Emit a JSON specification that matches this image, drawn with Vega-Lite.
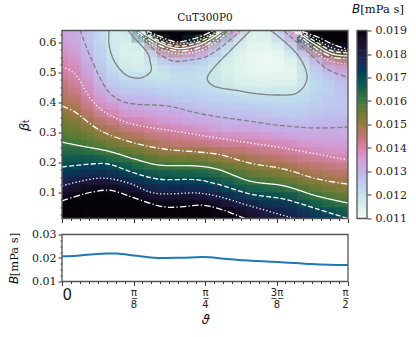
{"$schema":"https://vega.github.io/schema/vega-lite/v6.json","background":"white","padding":{"left":8,"top":3.5,"right":0,"bottom":0},"columns":2,"spacing":{"row":5,"column":0},"config":{"view":{"stroke":null},"axis":{"labelFont":"DejaVu Serif","labelFontSize":11,"labelColor":"#222","tickColor":"#333","domain":false,"grid":false,"labelPadding":2,"titleFontWeight":"normal","titleColor":"#111"},"title":{"fontWeight":"normal","color":"#111"}},
"datasets":{"grid":[
{"t":2,"b":0.625,"v":0.0134},{"t":2,"b":0.6,"v":0.0135},{"t":2,"b":0.575,"v":0.0137},{"t":2,"b":0.55,"v":0.0138},{"t":2,"b":0.525,"v":0.014},{"t":2,"b":0.5,"v":0.0141},{"t":2,"b":0.475,"v":0.0143},{"t":2,"b":0.45,"v":0.0145},{"t":2,"b":0.425,"v":0.0146},{"t":2,"b":0.4,"v":0.0148},{"t":2,"b":0.375,"v":0.015},{"t":2,"b":0.35,"v":0.0153},{"t":2,"b":0.325,"v":0.0155},{"t":2,"b":0.3,"v":0.0157},{"t":2,"b":0.275,"v":0.0159},{"t":2,"b":0.25,"v":0.0162},{"t":2,"b":0.225,"v":0.0165},{"t":2,"b":0.2,"v":0.0168},{"t":2,"b":0.175,"v":0.0172},{"t":2,"b":0.15,"v":0.0176},{"t":2,"b":0.125,"v":0.018},{"t":2,"b":0.1,"v":0.0185},{"t":2,"b":0.075,"v":0.0191},{"t":2,"b":0.05,"v":0.0195},{"t":2,"b":0.025,"v":0.0198},
{"t":6,"b":0.625,"v":0.013},{"t":6,"b":0.6,"v":0.0132},{"t":6,"b":0.575,"v":0.0133},{"t":6,"b":0.55,"v":0.0135},{"t":6,"b":0.525,"v":0.0136},{"t":6,"b":0.5,"v":0.0138},{"t":6,"b":0.475,"v":0.0139},{"t":6,"b":0.45,"v":0.0141},{"t":6,"b":0.425,"v":0.0143},{"t":6,"b":0.4,"v":0.0146},{"t":6,"b":0.375,"v":0.0148},{"t":6,"b":0.35,"v":0.015},{"t":6,"b":0.325,"v":0.0153},{"t":6,"b":0.3,"v":0.0155},{"t":6,"b":0.275,"v":0.0158},{"t":6,"b":0.25,"v":0.0161},{"t":6,"b":0.225,"v":0.0165},{"t":6,"b":0.2,"v":0.0169},{"t":6,"b":0.175,"v":0.0173},{"t":6,"b":0.15,"v":0.0177},{"t":6,"b":0.125,"v":0.0182},{"t":6,"b":0.1,"v":0.0188},{"t":6,"b":0.075,"v":0.0193},{"t":6,"b":0.05,"v":0.0197},{"t":6,"b":0.025,"v":0.02},
{"t":10,"b":0.625,"v":0.0125},{"t":10,"b":0.6,"v":0.0126},{"t":10,"b":0.575,"v":0.0127},{"t":10,"b":0.55,"v":0.0128},{"t":10,"b":0.525,"v":0.013},{"t":10,"b":0.5,"v":0.0132},{"t":10,"b":0.475,"v":0.0134},{"t":10,"b":0.45,"v":0.0136},{"t":10,"b":0.425,"v":0.0138},{"t":10,"b":0.4,"v":0.014},{"t":10,"b":0.375,"v":0.0143},{"t":10,"b":0.35,"v":0.0146},{"t":10,"b":0.325,"v":0.015},{"t":10,"b":0.3,"v":0.0153},{"t":10,"b":0.275,"v":0.0156},{"t":10,"b":0.25,"v":0.016},{"t":10,"b":0.225,"v":0.0164},{"t":10,"b":0.2,"v":0.0169},{"t":10,"b":0.175,"v":0.0174},{"t":10,"b":0.15,"v":0.0179},{"t":10,"b":0.125,"v":0.0185},{"t":10,"b":0.1,"v":0.019},{"t":10,"b":0.075,"v":0.0195},{"t":10,"b":0.05,"v":0.0198},{"t":10,"b":0.025,"v":0.02},
{"t":14,"b":0.625,"v":0.012},{"t":14,"b":0.6,"v":0.0121},{"t":14,"b":0.575,"v":0.0122},{"t":14,"b":0.55,"v":0.0122},{"t":14,"b":0.525,"v":0.0124},{"t":14,"b":0.5,"v":0.0125},{"t":14,"b":0.475,"v":0.0127},{"t":14,"b":0.45,"v":0.0129},{"t":14,"b":0.425,"v":0.0132},{"t":14,"b":0.4,"v":0.0135},{"t":14,"b":0.375,"v":0.0138},{"t":14,"b":0.35,"v":0.0142},{"t":14,"b":0.325,"v":0.0146},{"t":14,"b":0.3,"v":0.0149},{"t":14,"b":0.275,"v":0.0153},{"t":14,"b":0.25,"v":0.0158},{"t":14,"b":0.225,"v":0.0162},{"t":14,"b":0.2,"v":0.0168},{"t":14,"b":0.175,"v":0.0174},{"t":14,"b":0.15,"v":0.0179},{"t":14,"b":0.125,"v":0.0184},{"t":14,"b":0.1,"v":0.0191},{"t":14,"b":0.075,"v":0.0196},{"t":14,"b":0.05,"v":0.0199},{"t":14,"b":0.025,"v":0.02},
{"t":18,"b":0.625,"v":0.0116},{"t":18,"b":0.6,"v":0.0116},{"t":18,"b":0.575,"v":0.0116},{"t":18,"b":0.55,"v":0.0117},{"t":18,"b":0.525,"v":0.0119},{"t":18,"b":0.5,"v":0.0121},{"t":18,"b":0.475,"v":0.0123},{"t":18,"b":0.45,"v":0.0126},{"t":18,"b":0.425,"v":0.0129},{"t":18,"b":0.4,"v":0.0133},{"t":18,"b":0.375,"v":0.0137},{"t":18,"b":0.35,"v":0.014},{"t":18,"b":0.325,"v":0.0144},{"t":18,"b":0.3,"v":0.0148},{"t":18,"b":0.275,"v":0.0151},{"t":18,"b":0.25,"v":0.0155},{"t":18,"b":0.225,"v":0.016},{"t":18,"b":0.2,"v":0.0165},{"t":18,"b":0.175,"v":0.0171},{"t":18,"b":0.15,"v":0.0177},{"t":18,"b":0.125,"v":0.0183},{"t":18,"b":0.1,"v":0.0189},{"t":18,"b":0.075,"v":0.0194},{"t":18,"b":0.05,"v":0.0198},{"t":18,"b":0.025,"v":0.02},
{"t":22,"b":0.625,"v":0.012},{"t":22,"b":0.6,"v":0.0116},{"t":22,"b":0.575,"v":0.0115},{"t":22,"b":0.55,"v":0.0115},{"t":22,"b":0.525,"v":0.0116},{"t":22,"b":0.5,"v":0.0118},{"t":22,"b":0.475,"v":0.0121},{"t":22,"b":0.45,"v":0.0124},{"t":22,"b":0.425,"v":0.0127},{"t":22,"b":0.4,"v":0.013},{"t":22,"b":0.375,"v":0.0133},{"t":22,"b":0.35,"v":0.0136},{"t":22,"b":0.325,"v":0.0141},{"t":22,"b":0.3,"v":0.0145},{"t":22,"b":0.275,"v":0.0149},{"t":22,"b":0.25,"v":0.0154},{"t":22,"b":0.225,"v":0.0158},{"t":22,"b":0.2,"v":0.0163},{"t":22,"b":0.175,"v":0.0168},{"t":22,"b":0.15,"v":0.0174},{"t":22,"b":0.125,"v":0.018},{"t":22,"b":0.1,"v":0.0187},{"t":22,"b":0.075,"v":0.0192},{"t":22,"b":0.05,"v":0.0196},{"t":22,"b":0.025,"v":0.02},
{"t":26,"b":0.625,"v":0.017},{"t":26,"b":0.6,"v":0.0121},{"t":26,"b":0.575,"v":0.0116},{"t":26,"b":0.55,"v":0.0115},{"t":26,"b":0.525,"v":0.0116},{"t":26,"b":0.5,"v":0.0118},{"t":26,"b":0.475,"v":0.0122},{"t":26,"b":0.45,"v":0.0125},{"t":26,"b":0.425,"v":0.0128},{"t":26,"b":0.4,"v":0.013},{"t":26,"b":0.375,"v":0.0133},{"t":26,"b":0.35,"v":0.0137},{"t":26,"b":0.325,"v":0.0141},{"t":26,"b":0.3,"v":0.0144},{"t":26,"b":0.275,"v":0.0148},{"t":26,"b":0.25,"v":0.0152},{"t":26,"b":0.225,"v":0.0156},{"t":26,"b":0.2,"v":0.0161},{"t":26,"b":0.175,"v":0.0165},{"t":26,"b":0.15,"v":0.0172},{"t":26,"b":0.125,"v":0.0178},{"t":26,"b":0.1,"v":0.0184},{"t":26,"b":0.075,"v":0.0189},{"t":26,"b":0.05,"v":0.0194},{"t":26,"b":0.025,"v":0.0198},
{"t":30,"b":0.625,"v":0.019},{"t":30,"b":0.6,"v":0.0155},{"t":30,"b":0.575,"v":0.0134},{"t":30,"b":0.55,"v":0.0124},{"t":30,"b":0.525,"v":0.0119},{"t":30,"b":0.5,"v":0.0118},{"t":30,"b":0.475,"v":0.012},{"t":30,"b":0.45,"v":0.0123},{"t":30,"b":0.425,"v":0.0126},{"t":30,"b":0.4,"v":0.0129},{"t":30,"b":0.375,"v":0.0131},{"t":30,"b":0.35,"v":0.0135},{"t":30,"b":0.325,"v":0.0138},{"t":30,"b":0.3,"v":0.0142},{"t":30,"b":0.275,"v":0.0145},{"t":30,"b":0.25,"v":0.0149},{"t":30,"b":0.225,"v":0.0154},{"t":30,"b":0.2,"v":0.0158},{"t":30,"b":0.175,"v":0.0164},{"t":30,"b":0.15,"v":0.0169},{"t":30,"b":0.125,"v":0.0174},{"t":30,"b":0.1,"v":0.018},{"t":30,"b":0.075,"v":0.0185},{"t":30,"b":0.05,"v":0.0191},{"t":30,"b":0.025,"v":0.0196},
{"t":34,"b":0.625,"v":0.02},{"t":34,"b":0.6,"v":0.0187},{"t":34,"b":0.575,"v":0.0148},{"t":34,"b":0.55,"v":0.0132},{"t":34,"b":0.525,"v":0.0124},{"t":34,"b":0.5,"v":0.012},{"t":34,"b":0.475,"v":0.012},{"t":34,"b":0.45,"v":0.0122},{"t":34,"b":0.425,"v":0.0125},{"t":34,"b":0.4,"v":0.0128},{"t":34,"b":0.375,"v":0.0131},{"t":34,"b":0.35,"v":0.0134},{"t":34,"b":0.325,"v":0.0137},{"t":34,"b":0.3,"v":0.0141},{"t":34,"b":0.275,"v":0.0144},{"t":34,"b":0.25,"v":0.0147},{"t":34,"b":0.225,"v":0.0152},{"t":34,"b":0.2,"v":0.0157},{"t":34,"b":0.175,"v":0.0163},{"t":34,"b":0.15,"v":0.0168},{"t":34,"b":0.125,"v":0.0174},{"t":34,"b":0.1,"v":0.018},{"t":34,"b":0.075,"v":0.0186},{"t":34,"b":0.05,"v":0.0191},{"t":34,"b":0.025,"v":0.0196},
{"t":38,"b":0.625,"v":0.02},{"t":38,"b":0.6,"v":0.019},{"t":38,"b":0.575,"v":0.015},{"t":38,"b":0.55,"v":0.0133},{"t":38,"b":0.525,"v":0.0125},{"t":38,"b":0.5,"v":0.0122},{"t":38,"b":0.475,"v":0.0121},{"t":38,"b":0.45,"v":0.0122},{"t":38,"b":0.425,"v":0.0124},{"t":38,"b":0.4,"v":0.0127},{"t":38,"b":0.375,"v":0.013},{"t":38,"b":0.35,"v":0.0133},{"t":38,"b":0.325,"v":0.0136},{"t":38,"b":0.3,"v":0.014},{"t":38,"b":0.275,"v":0.0143},{"t":38,"b":0.25,"v":0.0146},{"t":38,"b":0.225,"v":0.0152},{"t":38,"b":0.2,"v":0.0157},{"t":38,"b":0.175,"v":0.0162},{"t":38,"b":0.15,"v":0.0168},{"t":38,"b":0.125,"v":0.0174},{"t":38,"b":0.1,"v":0.018},{"t":38,"b":0.075,"v":0.0186},{"t":38,"b":0.05,"v":0.0191},{"t":38,"b":0.025,"v":0.0196},
{"t":42,"b":0.625,"v":0.0198},{"t":42,"b":0.6,"v":0.017},{"t":42,"b":0.575,"v":0.0142},{"t":42,"b":0.55,"v":0.013},{"t":42,"b":0.525,"v":0.0124},{"t":42,"b":0.5,"v":0.0122},{"t":42,"b":0.475,"v":0.0121},{"t":42,"b":0.45,"v":0.0122},{"t":42,"b":0.425,"v":0.0124},{"t":42,"b":0.4,"v":0.0126},{"t":42,"b":0.375,"v":0.0129},{"t":42,"b":0.35,"v":0.0131},{"t":42,"b":0.325,"v":0.0134},{"t":42,"b":0.3,"v":0.0139},{"t":42,"b":0.275,"v":0.0142},{"t":42,"b":0.25,"v":0.0147},{"t":42,"b":0.225,"v":0.0152},{"t":42,"b":0.2,"v":0.0157},{"t":42,"b":0.175,"v":0.0162},{"t":42,"b":0.15,"v":0.0168},{"t":42,"b":0.125,"v":0.0174},{"t":42,"b":0.1,"v":0.018},{"t":42,"b":0.075,"v":0.0186},{"t":42,"b":0.05,"v":0.0191},{"t":42,"b":0.025,"v":0.0196},
{"t":46,"b":0.625,"v":0.019},{"t":46,"b":0.6,"v":0.0152},{"t":46,"b":0.575,"v":0.0136},{"t":46,"b":0.55,"v":0.0127},{"t":46,"b":0.525,"v":0.0122},{"t":46,"b":0.5,"v":0.012},{"t":46,"b":0.475,"v":0.012},{"t":46,"b":0.45,"v":0.0121},{"t":46,"b":0.425,"v":0.0123},{"t":46,"b":0.4,"v":0.0125},{"t":46,"b":0.375,"v":0.0128},{"t":46,"b":0.35,"v":0.0131},{"t":46,"b":0.325,"v":0.0134},{"t":46,"b":0.3,"v":0.0137},{"t":46,"b":0.275,"v":0.0141},{"t":46,"b":0.25,"v":0.0146},{"t":46,"b":0.225,"v":0.0151},{"t":46,"b":0.2,"v":0.0155},{"t":46,"b":0.175,"v":0.0161},{"t":46,"b":0.15,"v":0.0167},{"t":46,"b":0.125,"v":0.0173},{"t":46,"b":0.1,"v":0.0178},{"t":46,"b":0.075,"v":0.0184},{"t":46,"b":0.05,"v":0.019},{"t":46,"b":0.025,"v":0.0195},
{"t":50,"b":0.625,"v":0.016},{"t":50,"b":0.6,"v":0.0129},{"t":50,"b":0.575,"v":0.0123},{"t":50,"b":0.55,"v":0.0121},{"t":50,"b":0.525,"v":0.0118},{"t":50,"b":0.5,"v":0.0117},{"t":50,"b":0.475,"v":0.0118},{"t":50,"b":0.45,"v":0.012},{"t":50,"b":0.425,"v":0.0122},{"t":50,"b":0.4,"v":0.0124},{"t":50,"b":0.375,"v":0.0127},{"t":50,"b":0.35,"v":0.0129},{"t":50,"b":0.325,"v":0.0132},{"t":50,"b":0.3,"v":0.0135},{"t":50,"b":0.275,"v":0.014},{"t":50,"b":0.25,"v":0.0144},{"t":50,"b":0.225,"v":0.0149},{"t":50,"b":0.2,"v":0.0153},{"t":50,"b":0.175,"v":0.016},{"t":50,"b":0.15,"v":0.0165},{"t":50,"b":0.125,"v":0.017},{"t":50,"b":0.1,"v":0.0176},{"t":50,"b":0.075,"v":0.0182},{"t":50,"b":0.05,"v":0.0188},{"t":50,"b":0.025,"v":0.0194},
{"t":54,"b":0.625,"v":0.0135},{"t":54,"b":0.6,"v":0.0123},{"t":54,"b":0.575,"v":0.0119},{"t":54,"b":0.55,"v":0.0116},{"t":54,"b":0.525,"v":0.0115},{"t":54,"b":0.5,"v":0.0115},{"t":54,"b":0.475,"v":0.0116},{"t":54,"b":0.45,"v":0.0118},{"t":54,"b":0.425,"v":0.0121},{"t":54,"b":0.4,"v":0.0124},{"t":54,"b":0.375,"v":0.0126},{"t":54,"b":0.35,"v":0.0129},{"t":54,"b":0.325,"v":0.0131},{"t":54,"b":0.3,"v":0.0134},{"t":54,"b":0.275,"v":0.0139},{"t":54,"b":0.25,"v":0.0143},{"t":54,"b":0.225,"v":0.0147},{"t":54,"b":0.2,"v":0.0152},{"t":54,"b":0.175,"v":0.0157},{"t":54,"b":0.15,"v":0.0162},{"t":54,"b":0.125,"v":0.0167},{"t":54,"b":0.1,"v":0.0172},{"t":54,"b":0.075,"v":0.0178},{"t":54,"b":0.05,"v":0.0184},{"t":54,"b":0.025,"v":0.019},
{"t":58,"b":0.625,"v":0.0118},{"t":58,"b":0.6,"v":0.0115},{"t":58,"b":0.575,"v":0.0114},{"t":58,"b":0.55,"v":0.0113},{"t":58,"b":0.525,"v":0.0113},{"t":58,"b":0.5,"v":0.0113},{"t":58,"b":0.475,"v":0.0114},{"t":58,"b":0.45,"v":0.0116},{"t":58,"b":0.425,"v":0.012},{"t":58,"b":0.4,"v":0.0123},{"t":58,"b":0.375,"v":0.0126},{"t":58,"b":0.35,"v":0.0129},{"t":58,"b":0.325,"v":0.0131},{"t":58,"b":0.3,"v":0.0135},{"t":58,"b":0.275,"v":0.0139},{"t":58,"b":0.25,"v":0.0143},{"t":58,"b":0.225,"v":0.0147},{"t":58,"b":0.2,"v":0.0151},{"t":58,"b":0.175,"v":0.0155},{"t":58,"b":0.15,"v":0.0159},{"t":58,"b":0.125,"v":0.0164},{"t":58,"b":0.1,"v":0.017},{"t":58,"b":0.075,"v":0.0176},{"t":58,"b":0.05,"v":0.0182},{"t":58,"b":0.025,"v":0.0186},
{"t":62,"b":0.625,"v":0.0114},{"t":62,"b":0.6,"v":0.0113},{"t":62,"b":0.575,"v":0.0113},{"t":62,"b":0.55,"v":0.0112},{"t":62,"b":0.525,"v":0.0112},{"t":62,"b":0.5,"v":0.0113},{"t":62,"b":0.475,"v":0.0114},{"t":62,"b":0.45,"v":0.0116},{"t":62,"b":0.425,"v":0.012},{"t":62,"b":0.4,"v":0.0123},{"t":62,"b":0.375,"v":0.0126},{"t":62,"b":0.35,"v":0.0128},{"t":62,"b":0.325,"v":0.013},{"t":62,"b":0.3,"v":0.0134},{"t":62,"b":0.275,"v":0.0138},{"t":62,"b":0.25,"v":0.0141},{"t":62,"b":0.225,"v":0.0145},{"t":62,"b":0.2,"v":0.0149},{"t":62,"b":0.175,"v":0.0153},{"t":62,"b":0.15,"v":0.0157},{"t":62,"b":0.125,"v":0.0162},{"t":62,"b":0.1,"v":0.0167},{"t":62,"b":0.075,"v":0.0173},{"t":62,"b":0.05,"v":0.018},{"t":62,"b":0.025,"v":0.0184},
{"t":66,"b":0.625,"v":0.0117},{"t":66,"b":0.6,"v":0.0114},{"t":66,"b":0.575,"v":0.0112},{"t":66,"b":0.55,"v":0.0111},{"t":66,"b":0.525,"v":0.0111},{"t":66,"b":0.5,"v":0.0112},{"t":66,"b":0.475,"v":0.0114},{"t":66,"b":0.45,"v":0.0116},{"t":66,"b":0.425,"v":0.012},{"t":66,"b":0.4,"v":0.0122},{"t":66,"b":0.375,"v":0.0125},{"t":66,"b":0.35,"v":0.0128},{"t":66,"b":0.325,"v":0.013},{"t":66,"b":0.3,"v":0.0133},{"t":66,"b":0.275,"v":0.0137},{"t":66,"b":0.25,"v":0.0141},{"t":66,"b":0.225,"v":0.0144},{"t":66,"b":0.2,"v":0.0148},{"t":66,"b":0.175,"v":0.0152},{"t":66,"b":0.15,"v":0.0156},{"t":66,"b":0.125,"v":0.0161},{"t":66,"b":0.1,"v":0.0166},{"t":66,"b":0.075,"v":0.0171},{"t":66,"b":0.05,"v":0.0177},{"t":66,"b":0.025,"v":0.0182},
{"t":70,"b":0.625,"v":0.0127},{"t":70,"b":0.6,"v":0.0119},{"t":70,"b":0.575,"v":0.0115},{"t":70,"b":0.55,"v":0.0113},{"t":70,"b":0.525,"v":0.0112},{"t":70,"b":0.5,"v":0.0113},{"t":70,"b":0.475,"v":0.0114},{"t":70,"b":0.45,"v":0.0116},{"t":70,"b":0.425,"v":0.012},{"t":70,"b":0.4,"v":0.0122},{"t":70,"b":0.375,"v":0.0124},{"t":70,"b":0.35,"v":0.0126},{"t":70,"b":0.325,"v":0.013},{"t":70,"b":0.3,"v":0.0132},{"t":70,"b":0.275,"v":0.0136},{"t":70,"b":0.25,"v":0.014},{"t":70,"b":0.225,"v":0.0143},{"t":70,"b":0.2,"v":0.0147},{"t":70,"b":0.175,"v":0.0151},{"t":70,"b":0.15,"v":0.0155},{"t":70,"b":0.125,"v":0.0159},{"t":70,"b":0.1,"v":0.0165},{"t":70,"b":0.075,"v":0.0171},{"t":70,"b":0.05,"v":0.0176},{"t":70,"b":0.025,"v":0.0181},
{"t":74,"b":0.625,"v":0.0138},{"t":74,"b":0.6,"v":0.013},{"t":74,"b":0.575,"v":0.0123},{"t":74,"b":0.55,"v":0.0118},{"t":74,"b":0.525,"v":0.0114},{"t":74,"b":0.5,"v":0.0113},{"t":74,"b":0.475,"v":0.0114},{"t":74,"b":0.45,"v":0.0116},{"t":74,"b":0.425,"v":0.012},{"t":74,"b":0.4,"v":0.0122},{"t":74,"b":0.375,"v":0.0124},{"t":74,"b":0.35,"v":0.0126},{"t":74,"b":0.325,"v":0.0129},{"t":74,"b":0.3,"v":0.0132},{"t":74,"b":0.275,"v":0.0135},{"t":74,"b":0.25,"v":0.0139},{"t":74,"b":0.225,"v":0.0142},{"t":74,"b":0.2,"v":0.0145},{"t":74,"b":0.175,"v":0.0149},{"t":74,"b":0.15,"v":0.0153},{"t":74,"b":0.125,"v":0.0157},{"t":74,"b":0.1,"v":0.0163},{"t":74,"b":0.075,"v":0.0169},{"t":74,"b":0.05,"v":0.0174},{"t":74,"b":0.025,"v":0.0179},
{"t":78,"b":0.625,"v":0.0195},{"t":78,"b":0.6,"v":0.0165},{"t":78,"b":0.575,"v":0.0137},{"t":78,"b":0.55,"v":0.0127},{"t":78,"b":0.525,"v":0.0123},{"t":78,"b":0.5,"v":0.0121},{"t":78,"b":0.475,"v":0.0121},{"t":78,"b":0.45,"v":0.0121},{"t":78,"b":0.425,"v":0.0122},{"t":78,"b":0.4,"v":0.0123},{"t":78,"b":0.375,"v":0.0125},{"t":78,"b":0.35,"v":0.0127},{"t":78,"b":0.325,"v":0.0129},{"t":78,"b":0.3,"v":0.0131},{"t":78,"b":0.275,"v":0.0134},{"t":78,"b":0.25,"v":0.0137},{"t":78,"b":0.225,"v":0.014},{"t":78,"b":0.2,"v":0.0144},{"t":78,"b":0.175,"v":0.0147},{"t":78,"b":0.15,"v":0.015},{"t":78,"b":0.125,"v":0.0155},{"t":78,"b":0.1,"v":0.0159},{"t":78,"b":0.075,"v":0.0165},{"t":78,"b":0.05,"v":0.017},{"t":78,"b":0.025,"v":0.0175},
{"t":82,"b":0.625,"v":0.02},{"t":82,"b":0.6,"v":0.019},{"t":82,"b":0.575,"v":0.0155},{"t":82,"b":0.55,"v":0.0138},{"t":82,"b":0.525,"v":0.0129},{"t":82,"b":0.5,"v":0.0126},{"t":82,"b":0.475,"v":0.0124},{"t":82,"b":0.45,"v":0.0123},{"t":82,"b":0.425,"v":0.0124},{"t":82,"b":0.4,"v":0.0125},{"t":82,"b":0.375,"v":0.0126},{"t":82,"b":0.35,"v":0.0128},{"t":82,"b":0.325,"v":0.013},{"t":82,"b":0.3,"v":0.0132},{"t":82,"b":0.275,"v":0.0134},{"t":82,"b":0.25,"v":0.0136},{"t":82,"b":0.225,"v":0.0139},{"t":82,"b":0.2,"v":0.0143},{"t":82,"b":0.175,"v":0.0146},{"t":82,"b":0.15,"v":0.0149},{"t":82,"b":0.125,"v":0.0153},{"t":82,"b":0.1,"v":0.0157},{"t":82,"b":0.075,"v":0.0162},{"t":82,"b":0.05,"v":0.0167},{"t":82,"b":0.025,"v":0.0173},
{"t":86,"b":0.625,"v":0.02},{"t":86,"b":0.6,"v":0.0197},{"t":86,"b":0.575,"v":0.0178},{"t":86,"b":0.55,"v":0.0149},{"t":86,"b":0.525,"v":0.0137},{"t":86,"b":0.5,"v":0.013},{"t":86,"b":0.475,"v":0.0127},{"t":86,"b":0.45,"v":0.0125},{"t":86,"b":0.425,"v":0.0125},{"t":86,"b":0.4,"v":0.0126},{"t":86,"b":0.375,"v":0.0127},{"t":86,"b":0.35,"v":0.0128},{"t":86,"b":0.325,"v":0.013},{"t":86,"b":0.3,"v":0.0132},{"t":86,"b":0.275,"v":0.0134},{"t":86,"b":0.25,"v":0.0136},{"t":86,"b":0.225,"v":0.0138},{"t":86,"b":0.2,"v":0.0142},{"t":86,"b":0.175,"v":0.0145},{"t":86,"b":0.15,"v":0.0148},{"t":86,"b":0.125,"v":0.0151},{"t":86,"b":0.1,"v":0.0155},{"t":86,"b":0.075,"v":0.016},{"t":86,"b":0.05,"v":0.0165},{"t":86,"b":0.025,"v":0.0171},
{"t":90,"b":0.625,"v":0.02},{"t":90,"b":0.6,"v":0.02},{"t":90,"b":0.575,"v":0.0188},{"t":90,"b":0.55,"v":0.0154},{"t":90,"b":0.525,"v":0.014},{"t":90,"b":0.5,"v":0.0133},{"t":90,"b":0.475,"v":0.013},{"t":90,"b":0.45,"v":0.0128},{"t":90,"b":0.425,"v":0.0127},{"t":90,"b":0.4,"v":0.0127},{"t":90,"b":0.375,"v":0.0127},{"t":90,"b":0.35,"v":0.0128},{"t":90,"b":0.325,"v":0.013},{"t":90,"b":0.3,"v":0.0131},{"t":90,"b":0.275,"v":0.0133},{"t":90,"b":0.25,"v":0.0136},{"t":90,"b":0.225,"v":0.0138},{"t":90,"b":0.2,"v":0.0141},{"t":90,"b":0.175,"v":0.0144},{"t":90,"b":0.15,"v":0.0147},{"t":90,"b":0.125,"v":0.015},{"t":90,"b":0.1,"v":0.0154},{"t":90,"b":0.075,"v":0.0158},{"t":90,"b":0.05,"v":0.0163},{"t":90,"b":0.025,"v":0.0168}
]},
"concat":[
{"width":286,"height":188,"title":{"text":"CuT300P0","font":"DejaVu Serif","fontSize":10.5,"offset":5},"resolve":{"axis":{"x":"independent","y":"independent"}},
"layer":[
{"data":{"name":"grid"},"mark":{"type":"rect","width":13.2,"height":8.2,"clip":true},"encoding":{
"x":{"field":"t","type":"quantitative","scale":{"domain":[0,90],"nice":false,"zero":false},"axis":{"title":null,"values":[0,2.8125,5.625,8.4375,11.25,14.0625,16.875,19.6875,22.5,25.3125,28.125,30.9375,33.75,36.5625,39.375,42.1875,45,47.8125,50.625,53.4375,56.25,59.0625,61.875,64.6875,67.5,70.3125,73.125,75.9375,78.75,81.5625,84.375,87.1875,90],"labels":false,"tickSize":{"condition":{"test":"datum.value%22.5==0","value":4},"value":2}}},
"y":{"field":"b","type":"quantitative","scale":{"domain":[0.0133,0.64],"nice":false,"zero":false},"axis":{"title":"𝛽ₜ","titleFont":"DejaVu Sans","titleFontSize":14,"titlePadding":7,"labelOverlap":false,"labelBound":false,"values":[0.025,0.05,0.075,0.1,0.125,0.15,0.175,0.2,0.225,0.25,0.275,0.3,0.325,0.35,0.375,0.4,0.425,0.45,0.475,0.5,0.525,0.55,0.575,0.6,0.625],"labelExpr":"abs(datum.value*10-round(datum.value*10))<0.001?format(datum.value,'.1f'):''","tickSize":{"condition":{"test":"abs(datum.value*10-round(datum.value*10))<0.001","value":4},"value":2}}},
"fill":{"field":"v","type":"quantitative","legend":null,"scale":{"domain":[0.011,0.0115,0.012,0.0125,0.013,0.0135,0.014,0.0145,0.015,0.0155,0.016,0.0165,0.017,0.0175,0.018,0.0185,0.019],"range":["#f3fcf5","#dcf2ec","#c6e3ec","#bfcdf0","#c3b4ea","#d29fd8","#d684ae","#bd7875","#9a7a43","#6f7b36","#3f7a3d","#1e6449","#134b54","#14315a","#1b2048","#1a1030","#050208"],"clamp":true}}}},
{"data":{"name":"grid"},"mark":{"type":"rect","width":26,"height":16,"clip":true,"opacity":0.33},"encoding":{"x":{"field":"t","type":"quantitative","axis":null},"y":{"field":"b","type":"quantitative","axis":null},"fill":{"field":"v","type":"quantitative","legend":null}}},
{"data":{"values":[
{"k":"a12","l":"0.012","t":14.8,"b":0.642},{"k":"a12","l":"0.012","t":14.8,"b":0.593},{"k":"a12","l":"0.012","t":16,"b":0.548},{"k":"a12","l":"0.012","t":17.9,"b":0.515},{"k":"a12","l":"0.012","t":20.8,"b":0.488},{"k":"a12","l":"0.012","t":24.9,"b":0.482},{"k":"a12","l":"0.012","t":28,"b":0.505},{"k":"a12","l":"0.012","t":27.7,"b":0.538},{"k":"a12","l":"0.012","t":27.1,"b":0.562},{"k":"a12","l":"0.012","t":21.7,"b":0.628},{"k":"a12","l":"0.012","t":20.8,"b":0.642},
{"k":"b12","l":"0.012","t":59.5,"b":0.642},{"k":"b12","l":"0.012","t":52.9,"b":0.572},{"k":"b12","l":"0.012","t":48.8,"b":0.528},{"k":"b12","l":"0.012","t":45.9,"b":0.488},{"k":"b12","l":"0.012","t":45.9,"b":0.472},{"k":"b12","l":"0.012","t":47.8,"b":0.455},{"k":"b12","l":"0.012","t":56.3,"b":0.438},{"k":"b12","l":"0.012","t":59.2,"b":0.432},{"k":"b12","l":"0.012","t":67.7,"b":0.425},{"k":"b12","l":"0.012","t":74,"b":0.432},{"k":"b12","l":"0.012","t":77.1,"b":0.478},{"k":"b12","l":"0.012","t":74.9,"b":0.548},{"k":"b12","l":"0.012","t":66.7,"b":0.632},{"k":"b12","l":"0.012","t":65.1,"b":0.642},
{"k":"l13","l":"0.013","t":5.7,"b":0.642},{"k":"l13","l":"0.013","t":6,"b":0.632},{"k":"l13","l":"0.013","t":9.1,"b":0.548},{"k":"l13","l":"0.013","t":14.5,"b":0.438},{"k":"l13","l":"0.013","t":18.6,"b":0.405},{"k":"l13","l":"0.013","t":22.7,"b":0.395},{"k":"l13","l":"0.013","t":33.4,"b":0.388},{"k":"l13","l":"0.013","t":43.7,"b":0.362},{"k":"l13","l":"0.013","t":56.3,"b":0.342},{"k":"l13","l":"0.013","t":69.9,"b":0.322},{"k":"l13","l":"0.013","t":80.3,"b":0.315},{"k":"l13","l":"0.013","t":90,"b":0.318},
{"k":"l14","l":"0.014","t":0,"b":0.518},{"k":"l14","l":"0.014","t":3.8,"b":0.498},{"k":"l14","l":"0.014","t":9.1,"b":0.412},{"k":"l14","l":"0.014","t":12.9,"b":0.372},{"k":"l14","l":"0.014","t":20.8,"b":0.332},{"k":"l14","l":"0.014","t":35.2,"b":0.305},{"k":"l14","l":"0.014","t":48.8,"b":0.282},{"k":"l14","l":"0.014","t":59.2,"b":0.265},{"k":"l14","l":"0.014","t":69.9,"b":0.248},{"k":"l14","l":"0.014","t":90,"b":0.208},
{"k":"l15","l":"0.015","t":0,"b":0.388},{"k":"l15","l":"0.015","t":3.5,"b":0.372},{"k":"l15","l":"0.015","t":12.3,"b":0.305},{"k":"l15","l":"0.015","t":22.7,"b":0.265},{"k":"l15","l":"0.015","t":32.1,"b":0.245},{"k":"l15","l":"0.015","t":42.8,"b":0.235},{"k":"l15","l":"0.015","t":48.8,"b":0.228},{"k":"l15","l":"0.015","t":59.2,"b":0.198},{"k":"l15","l":"0.015","t":69.9,"b":0.178},{"k":"l15","l":"0.015","t":80.3,"b":0.145},{"k":"l15","l":"0.015","t":90,"b":0.128},
{"k":"l16","l":"0.016","t":0,"b":0.268},{"k":"l16","l":"0.016","t":6,"b":0.255},{"k":"l16","l":"0.016","t":14.5,"b":0.238},{"k":"l16","l":"0.016","t":22.7,"b":0.212},{"k":"l16","l":"0.016","t":30.2,"b":0.192},{"k":"l16","l":"0.016","t":42.8,"b":0.188},{"k":"l16","l":"0.016","t":48.8,"b":0.178},{"k":"l16","l":"0.016","t":59.2,"b":0.138},{"k":"l16","l":"0.016","t":69.9,"b":0.122},{"k":"l16","l":"0.016","t":80.3,"b":0.088},{"k":"l16","l":"0.016","t":90,"b":0.065},
{"k":"l17","l":"0.017","t":0,"b":0.185},{"k":"l17","l":"0.017","t":9.1,"b":0.195},{"k":"l17","l":"0.017","t":14.5,"b":0.195},{"k":"l17","l":"0.017","t":22.7,"b":0.165},{"k":"l17","l":"0.017","t":30.2,"b":0.145},{"k":"l17","l":"0.017","t":42.8,"b":0.142},{"k":"l17","l":"0.017","t":48.8,"b":0.128},{"k":"l17","l":"0.017","t":59.2,"b":0.095},{"k":"l17","l":"0.017","t":69.9,"b":0.078},{"k":"l17","l":"0.017","t":80.3,"b":0.045},{"k":"l17","l":"0.017","t":90,"b":0.013},
{"k":"l18","l":"0.018","t":0,"b":0.122},{"k":"l18","l":"0.018","t":12.3,"b":0.148},{"k":"l18","l":"0.018","t":20.8,"b":0.132},{"k":"l18","l":"0.018","t":29,"b":0.098},{"k":"l18","l":"0.018","t":42.8,"b":0.098},{"k":"l18","l":"0.018","t":48.8,"b":0.088},{"k":"l18","l":"0.018","t":59.2,"b":0.055},{"k":"l18","l":"0.018","t":73.6,"b":0.012},
{"k":"l19","l":"0.019","t":0,"b":0.072},{"k":"l19","l":"0.019","t":6.9,"b":0.095},{"k":"l19","l":"0.019","t":14.5,"b":0.108},{"k":"l19","l":"0.019","t":18.6,"b":0.098},{"k":"l19","l":"0.019","t":22.7,"b":0.082},{"k":"l19","l":"0.019","t":32.1,"b":0.052},{"k":"l19","l":"0.019","t":37.4,"b":0.052},{"k":"l19","l":"0.019","t":43.7,"b":0.058},{"k":"l19","l":"0.019","t":48.8,"b":0.048},{"k":"l19","l":"0.019","t":57.9,"b":0.012},
{"k":"m13","l":"0.013","t":23.3,"b":0.638},{"k":"m13","l":"0.013","t":24.9,"b":0.622},{"k":"m13","l":"0.013","t":30.2,"b":0.565},{"k":"m13","l":"0.013","t":35.2,"b":0.538},{"k":"m13","l":"0.013","t":40.6,"b":0.542},{"k":"m13","l":"0.013","t":45.9,"b":0.555},{"k":"m13","l":"0.013","t":55.4,"b":0.632},{"k":"m13","l":"0.013","t":56.3,"b":0.642},
{"k":"m14","l":"0.014","t":23.9,"b":0.628},{"k":"m14","l":"0.014","t":30.2,"b":0.582},{"k":"m14","l":"0.014","t":37.4,"b":0.562},{"k":"m14","l":"0.014","t":44.7,"b":0.578},{"k":"m14","l":"0.014","t":52.2,"b":0.632},{"k":"m14","l":"0.014","t":53.2,"b":0.642},
{"k":"m15","l":"0.015","t":23.9,"b":0.635},{"k":"m15","l":"0.015","t":30.2,"b":0.592},{"k":"m15","l":"0.015","t":36.8,"b":0.572},{"k":"m15","l":"0.015","t":44.7,"b":0.588},{"k":"m15","l":"0.015","t":50.7,"b":0.632},
{"k":"m16","l":"0.016","t":24.5,"b":0.638},{"k":"m16","l":"0.016","t":30.2,"b":0.602},{"k":"m16","l":"0.016","t":36.5,"b":0.58},{"k":"m16","l":"0.016","t":43.7,"b":0.595},{"k":"m16","l":"0.016","t":50.4,"b":0.638},
{"k":"m17","l":"0.017","t":25.2,"b":0.638},{"k":"m17","l":"0.017","t":30.2,"b":0.608},{"k":"m17","l":"0.017","t":36.2,"b":0.588},{"k":"m17","l":"0.017","t":43.1,"b":0.602},{"k":"m17","l":"0.017","t":49.7,"b":0.638},
{"k":"m18","l":"0.018","t":25.8,"b":0.638},{"k":"m18","l":"0.018","t":30.5,"b":0.615},{"k":"m18","l":"0.018","t":36.2,"b":0.595},{"k":"m18","l":"0.018","t":42.8,"b":0.608},{"k":"m18","l":"0.018","t":49.1,"b":0.638},
{"k":"m19","l":"0.019","t":26.4,"b":0.64},{"k":"m19","l":"0.019","t":30.5,"b":0.622},{"k":"m19","l":"0.019","t":35.9,"b":0.602},{"k":"m19","l":"0.019","t":42.2,"b":0.615},{"k":"m19","l":"0.019","t":47.8,"b":0.64},
{"k":"r13","l":"0.013","t":69.9,"b":0.638},{"k":"r13","l":"0.013","t":77.1,"b":0.572},{"k":"r13","l":"0.013","t":83.4,"b":0.512},{"k":"r13","l":"0.013","t":89.7,"b":0.485},{"k":"r13","l":"0.013","t":90,"b":0.484},
{"k":"r14","l":"0.014","t":72.4,"b":0.638},{"k":"r14","l":"0.014","t":79.3,"b":0.572},{"k":"r14","l":"0.014","t":84.3,"b":0.538},{"k":"r14","l":"0.014","t":90,"b":0.528},
{"k":"r15","l":"0.015","t":73,"b":0.638},{"k":"r15","l":"0.015","t":79.3,"b":0.585},{"k":"r15","l":"0.015","t":85,"b":0.552},{"k":"r15","l":"0.015","t":90,"b":0.545},
{"k":"r16","l":"0.016","t":73.6,"b":0.638},{"k":"r16","l":"0.016","t":79.9,"b":0.592},{"k":"r16","l":"0.016","t":85,"b":0.562},{"k":"r16","l":"0.016","t":90,"b":0.555},
{"k":"r17","l":"0.017","t":74.3,"b":0.638},{"k":"r17","l":"0.017","t":79.9,"b":0.602},{"k":"r17","l":"0.017","t":85,"b":0.572},{"k":"r17","l":"0.017","t":90,"b":0.565},
{"k":"r18","l":"0.018","t":74.9,"b":0.638},{"k":"r18","l":"0.018","t":80.6,"b":0.608},{"k":"r18","l":"0.018","t":85,"b":0.582},{"k":"r18","l":"0.018","t":90,"b":0.572},
{"k":"r19","l":"0.019","t":75.5,"b":0.638},{"k":"r19","l":"0.019","t":81.2,"b":0.615},{"k":"r19","l":"0.019","t":85.6,"b":0.592},{"k":"r19","l":"0.019","t":90,"b":0.578}
]},"transform":[{"window":[{"op":"row_number","as":"i"}]}],"mark":{"type":"line","clip":true,"strokeWidth":1.3,"interpolate":"catmull-rom"},"encoding":{"x":{"field":"t","type":"quantitative","axis":null},"y":{"field":"b","type":"quantitative","axis":null},"detail":{"field":"k"},"order":{"field":"i","type":"quantitative"},
"stroke":{"field":"l","type":"nominal","legend":null,"scale":{"domain":["0.012","0.013","0.014","0.015","0.016","0.017","0.018","0.019"],"range":["#808080","#808080","#ffffff","#ffffff","#ffffff","#ffffff","#ffffff","#ffffff"]}},
"strokeDash":{"field":"l","type":"nominal","legend":null,"scale":{"domain":["0.012","0.013","0.014","0.015","0.016","0.017","0.018","0.019"],"range":[[1,0],[5,2.2],[1.3,2.2],[6.5,2.2,1.3,2.2],[1,0],[5,2.2],[1.3,2.2],[6.5,2.2,1.3,2.2]]}}}},
{"data":{"values":[{"t0":0,"t1":90,"b0":0.0133,"b1":0.64}]},"mark":{"type":"rect","fill":null,"stroke":"#555555","strokeWidth":1.3,"clip":false},"encoding":{"x":{"field":"t0","type":"quantitative","axis":null},"x2":{"field":"t1"},"y":{"field":"b0","type":"quantitative","axis":null},"y2":{"field":"b1"}}}
]},
{"width":10,"height":188,"title":{"text":"𝘉[mPa s]","font":"DejaVu Serif","fontSize":11.5,"anchor":"start","dx":-4,"offset":9},"resolve":{"axis":{"y":"independent"}},
"layer":[{"data":{"values":[{"c":0.011},{"c":0.0111},{"c":0.0112},{"c":0.0113},{"c":0.0114},{"c":0.0115},{"c":0.0116},{"c":0.0117},{"c":0.0118},{"c":0.0119},{"c":0.012},{"c":0.0121},{"c":0.0122},{"c":0.0123},{"c":0.0124},{"c":0.0125},{"c":0.0126},{"c":0.0127},{"c":0.0128},{"c":0.0129},{"c":0.013},{"c":0.0131},{"c":0.0132},{"c":0.0133},{"c":0.0134},{"c":0.0135},{"c":0.0136},{"c":0.0137},{"c":0.0138},{"c":0.0139},{"c":0.014},{"c":0.0141},{"c":0.0142},{"c":0.0143},{"c":0.0144},{"c":0.0145},{"c":0.0146},{"c":0.0147},{"c":0.0148},{"c":0.0149},{"c":0.015},{"c":0.0151},{"c":0.0152},{"c":0.0153},{"c":0.0154},{"c":0.0155},{"c":0.0156},{"c":0.0157},{"c":0.0158},{"c":0.0159},{"c":0.016},{"c":0.0161},{"c":0.0162},{"c":0.0163},{"c":0.0164},{"c":0.0165},{"c":0.0166},{"c":0.0167},{"c":0.0168},{"c":0.0169},{"c":0.017},{"c":0.0171},{"c":0.0172},{"c":0.0173},{"c":0.0174},{"c":0.0175},{"c":0.0176},{"c":0.0177},{"c":0.0178},{"c":0.0179},{"c":0.018},{"c":0.0181},{"c":0.0182},{"c":0.0183},{"c":0.0184},{"c":0.0185},{"c":0.0186},{"c":0.0187},{"c":0.0188},{"c":0.0189},{"c":0.019}]},
"mark":{"type":"rect","height":3,"clip":true},"encoding":{"y":{"field":"c","type":"quantitative","scale":{"domain":[0.011,0.019],"nice":false,"zero":false},"axis":{"title":null,"orient":"right","labelOverlap":false,"labelBound":false,"values":[0.011,0.012,0.013,0.014,0.015,0.016,0.017,0.018,0.019],"format":".3f","tickSize":4,"labelPadding":4}},
"fill":{"field":"c","type":"quantitative","legend":null,"scale":{"domain":[0.011,0.0115,0.012,0.0125,0.013,0.0135,0.014,0.0145,0.015,0.0155,0.016,0.0165,0.017,0.0175,0.018,0.0185,0.019],"range":["#f3fcf5","#dcf2ec","#c6e3ec","#bfcdf0","#c3b4ea","#d29fd8","#d684ae","#bd7875","#9a7a43","#6f7b36","#3f7a3d","#1e6449","#134b54","#14315a","#1b2048","#1a1030","#050208"]}}}},
{"data":{"values":[{"c0":0.011,"c1":0.019}]},"mark":{"type":"rect","fill":null,"stroke":"#555555","strokeWidth":1.3,"clip":false},"encoding":{"y":{"field":"c0","type":"quantitative","axis":null},"y2":{"field":"c1"}}}]},
{"width":286,"height":47,"resolve":{"axis":{"x":"independent","y":"independent"}},"layer":[
{"data":{"values":[{"t":0,"B":0.0207},{"t":5.8,"B":0.0211},{"t":10,"B":0.0216},{"t":14.2,"B":0.0219},{"t":17.4,"B":0.0219},{"t":22.6,"B":0.0211},{"t":28.9,"B":0.0201},{"t":37.4,"B":0.0201},{"t":44.7,"B":0.0204},{"t":51,"B":0.0197},{"t":57.4,"B":0.019},{"t":67.9,"B":0.0183},{"t":78.4,"B":0.0174},{"t":84,"B":0.0171},{"t":90,"B":0.017}]},
"mark":{"type":"line","color":"#1f77b4","strokeWidth":2,"interpolate":"catmull-rom"},"encoding":{
"x":{"field":"t","type":"quantitative","scale":{"domain":[0,90],"nice":false,"zero":false},"axis":{"title":"𝜗","titleFont":"DejaVu Sans","titleFontSize":14,"titlePadding":3,"labelOverlap":false,"labelBound":false,"values":[0,2.8125,5.625,8.4375,11.25,14.0625,16.875,19.6875,22.5,25.3125,28.125,30.9375,33.75,36.5625,39.375,42.1875,45,47.8125,50.625,53.4375,56.25,59.0625,61.875,64.6875,67.5,70.3125,73.125,75.9375,78.75,81.5625,84.375,87.1875,90],"labelFont":"DejaVu Sans","labelExpr":"datum.value==0?'0':datum.value==22.5?['π̲','8']:datum.value==45?['π̲','4']:datum.value==67.5?['3̲π̲','8']:datum.value==90?['π̲','2']:''","labelFontSize":{"condition":{"test":"datum.value==0","value":15},"value":10},"tickSize":{"condition":{"test":"datum.value%22.5==0","value":4},"value":2}}},
"y":{"field":"B","type":"quantitative","scale":{"domain":[0.01,0.03],"nice":false,"zero":false},"axis":{"title":"𝘉[mPa s]","titleFont":"DejaVu Serif","titleFontSize":11.5,"titlePadding":12,"labelOverlap":false,"labelBound":false,"values":[0.01,0.0125,0.015,0.0175,0.02,0.0225,0.025,0.0275,0.03],"labelExpr":"abs(datum.value*100-round(datum.value*100))<0.001?format(datum.value,'.2f'):''","tickSize":{"condition":{"test":"abs(datum.value*100-round(datum.value*100))<0.001","value":4},"value":2}}}}},
{"data":{"values":[{"t0":0,"t1":90,"b0":0.01,"b1":0.03}]},"mark":{"type":"rect","fill":null,"stroke":"#555555","strokeWidth":1.3,"clip":false},"encoding":{"x":{"field":"t0","type":"quantitative","axis":null},"x2":{"field":"t1"},"y":{"field":"b0","type":"quantitative","axis":null},"y2":{"field":"b1"}}}
]}
]}
